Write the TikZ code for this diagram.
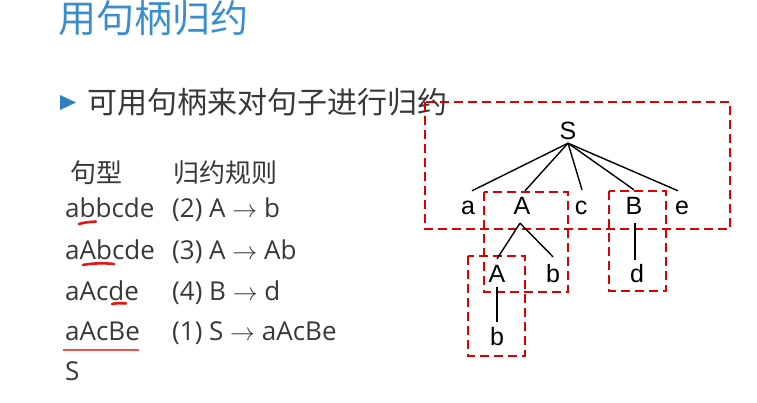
\documentclass[tikz,border=0pt]{standalone}
\usepackage{fontspec}
\setmainfont{Open Sans}
\newfontfamily\cjk{Noto Sans CJK SC}
\newfontfamily\arialf{Liberation Sans}
\definecolor{titleblue}{RGB}{58,142,208}
\definecolor{bulletblue}{RGB}{47,127,193}
\definecolor{bodygray}{RGB}{56,56,56}
\definecolor{boxred}{RGB}{220,0,0}
\definecolor{markred}{RGB}{232,20,20}
\definecolor{linered}{RGB}{232,85,75}
\begin{document}
\begin{tikzpicture}[x=1pt,y=-1pt,
  titletext/.style={font=\cjk\fontsize{38}{40}\selectfont, text=titleblue, inner sep=0pt, anchor=base west},
  bullettext/.style={font=\cjk\fontsize{30}{32}\selectfont, text=bodygray, inner sep=0pt, anchor=base west},
  headtext/.style={font=\cjk\fontsize{26}{28}\selectfont, text=bodygray, inner sep=0pt, anchor=base west},
  rowtext/.style={font=\fontsize{26}{28}\selectfont, text=bodygray, inner sep=0pt, anchor=base west},
  treenode/.style={font=\arialf\fontsize{25}{25}\selectfont, text=black, inner sep=0pt, text height=18pt, text depth=0pt, anchor=base},
  treeedge/.style={draw=black, line width=1.4pt},
  hbox/.style={draw=boxred, line width=2.1pt, dash pattern=on 9pt off 5pt},
  handlemark/.style={draw=markred, line width=2.6pt, line cap=round}]
\useasboundingbox (0,0) rectangle (757,403);
% title and bullet
\node[titletext] (title) at (58,33) {用句柄归约};
\fill[bulletblue] (60,95) -- (76,102.5) -- (60,110) -- cycle;
\node[bullettext] (bullet) at (87,114) {可用句柄来对句子进行归约};
% table
\node[headtext] (h1) at (70,183) {句型};
\node[headtext] (h2) at (173,183) {归约规则};
\node[rowtext] (f1) at (65,218) {abbcde};
\node[rowtext] (f2) at (65,259) {aAbcde};
\node[rowtext] (f3) at (65,300) {aAcde};
\node[rowtext] (f4) at (65,340) {aAcBe};
\node[rowtext] (f5) at (65,380) {S};
\node[rowtext] (r1) at (172,218) {(2) A $\to$ b};
\node[rowtext] (r2) at (172,259) {(3) A $\to$ Ab};
\node[rowtext] (r3) at (172,300) {(4) B $\to$ d};
\node[rowtext] (r4) at (172,340) {(1) S $\to$ aAcBe};
% handle marks
\draw[handlemark] (79,224) .. controls (85,222) and (91,222) .. (96,221.5);
\draw[handlemark] (83,265) .. controls (93,263) and (105,263) .. (114,264);
\draw[handlemark] (112,304) .. controls (117,303) and (121,303) .. (126,303.5);
\draw[draw=linered, line width=1.3pt] (63,350) -- (139,350);
% dashed boxes
\draw[hbox] (425,102) rectangle (730,229);
\draw[hbox] (484,192) rectangle (568,292);
\draw[hbox] (609,191) rectangle (666,291);
\draw[hbox] (468,256) rectangle (525,356);
% tree
\node[treenode] (S) at (568,140) {S};
\node[treenode] (a) at (468,215) {a};
\node[treenode] (A) at (522,215) {A};
\node[treenode] (c) at (581,215) {c};
\node[treenode] (B) at (634,215) {B};
\node[treenode] (e) at (682,215) {e};
\node[treenode] (A2) at (497,283) {A};
\node[treenode] (b2) at (553,283) {b};
\node[treenode] (d) at (637,283) {d};
\node[treenode] (b3) at (497,345) {b};
\draw[treeedge] ([yshift=-3pt]S.south) -- ([xshift=4pt,yshift=6pt]a.north);
\draw[treeedge] ([yshift=-3pt]S.south) -- ([xshift=3pt,yshift=6pt]A.north);
\draw[treeedge] ([yshift=-3pt]S.south) -- ([xshift=1pt,yshift=7pt]c.north);
\draw[treeedge] ([yshift=-3pt]S.south) -- ([yshift=7pt]B.north);
\draw[treeedge] ([yshift=-3pt]S.south) -- ([xshift=-4pt,yshift=6pt]e.north);
\draw[treeedge] ([xshift=-2pt,yshift=-8pt]A.south) -- ([yshift=6pt]A2.north);
\draw[treeedge] ([xshift=-2pt,yshift=-8pt]A.south) -- ([yshift=8pt]b2.north);
\draw[treeedge] ([xshift=1pt,yshift=-8pt]B.south) -- ([xshift=-2pt,yshift=5pt]d.north);
\draw[treeedge] ([yshift=-4pt]A2.south) -- ([yshift=5pt]b3.north);
\end{tikzpicture}
\end{document}
